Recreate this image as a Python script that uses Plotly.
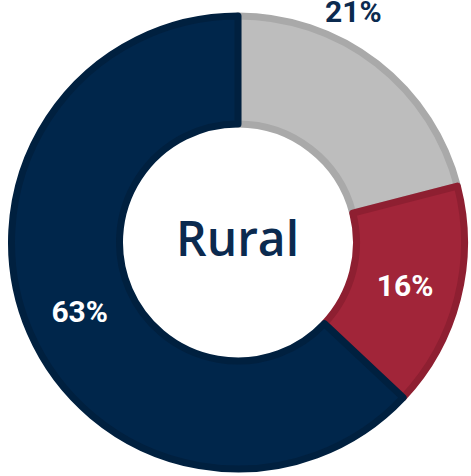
import plotly.graph_objects as go

# Data
categories = ["Segment C", "Segment B", "Segment A"]
values = [21, 16, 63]
center_label = "Rural"

fill_colors = ["#BDBDBD", "#A12539", "#00264B"]
line_colors = ["#A9A9A9", "#8E1F31", "#00203F"]

W, H = 471, 476
cx, cy = 238, 242.5
r_out = 230
lw = 7
r = r_out - lw / 2
hole = (115 + lw / 2) / r

labels_txt = [f"{v}%" for v in values]

fig = go.Figure(go.Pie(
    labels=categories,
    values=values,
    text=labels_txt,
    textinfo="text",
    textposition=["none", "inside", "inside"],
    insidetextorientation="horizontal",
    insidetextfont=dict(family="Roboto", size=30, color="white", weight=700),
    sort=False,
    direction="clockwise",
    rotation=0,
    hole=hole,
    marker=dict(colors=fill_colors, line=dict(color=line_colors, width=lw)),
    domain=dict(x=[(cx - r) / W, (cx + r) / W],
                y=[(H - cy - r) / H, (H - cy + r) / H]),
    showlegend=False,
    hoverinfo="label+percent",
))

fig.add_annotation(
    x=237 / W, y=(H - 237) / H, xref="paper", yref="paper",
    text=center_label, showarrow=False,
    font=dict(family="Open Sans", size=48, color="#0B2A4F", weight=600),
    xanchor="center", yanchor="middle",
)
fig.add_annotation(
    x=353 / W, y=(H - 11) / H, xref="paper", yref="paper",
    text=labels_txt[0], showarrow=False,
    font=dict(family="Roboto", size=30, color="#0B2A4F", weight=700),
    xanchor="center", yanchor="middle",
)

fig.update_layout(
    width=W, height=H,
    margin=dict(l=0, r=0, t=0, b=0),
    paper_bgcolor="white",
    plot_bgcolor="white",
)

fig.write_html("out.html", config={"displayModeBar": False},
               post_script="document.body.style.margin='0px';")
